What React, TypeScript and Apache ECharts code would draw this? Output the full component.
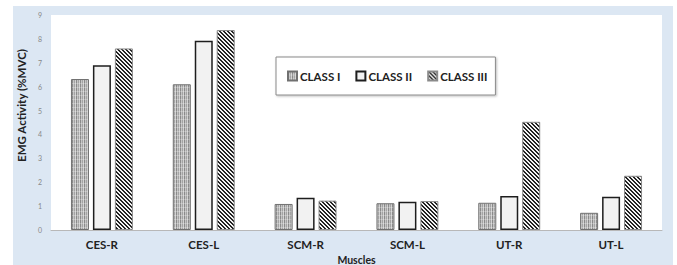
import React, { useEffect, useRef } from "react";
import * as echarts from "echarts";

const categories = ["CES-R", "CES-L", "SCM-R", "SCM-L", "UT-R", "UT-L"];
const classI = [6.32, 6.1, 1.09, 1.12, 1.14, 0.72];
const classII = [6.9, 7.92, 1.35, 1.18, 1.42, 1.39];
const classIII = [7.6, 8.37, 1.23, 1.21, 4.53, 2.27];
const seriesNames = ["CLASS I", "CLASS II", "CLASS III"];
const yTicks = { min: 0, max: 9, interval: 1 };

function makeStripe(): HTMLCanvasElement {
  const c = document.createElement("canvas");
  c.width = 4;
  c.height = 4;
  const ctx = c.getContext("2d")!;
  const cols = ["#8a8a8a", "#c4c4c4", "#a4a4a4", "#d2d2d2"];
  cols.forEach((col, i) => {
    ctx.fillStyle = col;
    ctx.fillRect(i, 0, 1, 4);
  });
  ctx.fillStyle = "rgba(255,255,255,0.25)";
  ctx.fillRect(0, 3, 4, 1);
  return c;
}

function makeHatch(): HTMLCanvasElement {
  const c = document.createElement("canvas");
  c.width = 4;
  c.height = 4;
  const ctx = c.getContext("2d")!;
  ctx.fillStyle = "#f4f4f4";
  ctx.fillRect(0, 0, 4, 4);
  ctx.fillStyle = "#222222";
  for (let i = 0; i < 4; i++) {
    ctx.fillRect(i, i, 1, 1);
    ctx.fillRect((i + 1) % 4, i, 1, 1);
  }
  return c;
}

export default function App() {
  const ref = useRef<HTMLDivElement>(null);
  useEffect(() => {
    if (!ref.current) return;
    const chart = echarts.init(ref.current, undefined, { renderer: "svg" });
    const stripe = { image: makeStripe(), repeat: "repeat" };
    const hatch = { image: makeHatch(), repeat: "repeat" };
    const font = "Lato, 'Open Sans', sans-serif";
    chart.setOption({
      animation: false,
      backgroundColor: "#ffffff",
      textStyle: { fontFamily: font },
      graphic: [
        {
          type: "rect",
          z: -10,
          silent: true,
          shape: { x: 13, y: 6, width: 660, height: 259 },
          style: { fill: "#dce7f3" },
        },
      ],
      grid: {
        left: 51,
        right: 15,
        top: 15,
        bottom: 35,
        show: true,
        backgroundColor: "#ffffff",
        borderWidth: 0,
        containLabel: false,
        outerBoundsMode: "none",
      },
      legend: {
        left: 276,
        top: 57,
        padding: [13, 8, 13, 11],
        itemGap: 15,
        itemWidth: 9,
        itemHeight: 9,
        backgroundColor: "#ffffff",
        borderColor: "#8a8a8a",
        borderWidth: 1,
        shadowColor: "rgba(0,0,0,0.25)",
        shadowBlur: 2,
        shadowOffsetX: 1,
        shadowOffsetY: 1,
        icon: "rect",
        textStyle: {
          fontFamily: font,
          fontWeight: "bold",
          fontSize: 11.5,
          color: "#222",
          padding: [0, 0, 0, -2],
        },
        data: seriesNames,
      },
      xAxis: {
        type: "category",
        data: categories,
        name: "Muscles",
        nameLocation: "middle",
        nameGap: 18,
        nameTextStyle: { fontFamily: font, fontWeight: "bold", fontSize: 10.5, color: "#222" },
        axisLine: { show: true, lineStyle: { color: "#b8b8b8", width: 1 } },
        axisTick: { show: false },
        axisLabel: { fontFamily: font, fontWeight: "bold", fontSize: 11.5, color: "#222", margin: 8 },
      },
      yAxis: {
        type: "value",
        min: yTicks.min,
        max: yTicks.max,
        interval: yTicks.interval,
        name: "EMG Activity (%MVC)",
        nameLocation: "middle",
        nameGap: 21,
        nameTextStyle: {
          fontFamily: font,
          fontWeight: "bold",
          fontSize: 11.5,
          color: "#222",
          padding: [0, 0, 0, 34],
        },
        axisLine: { show: false },
        axisTick: { show: false },
        splitLine: { show: false },
        axisLabel: { fontSize: 7, color: "#888", margin: 9, fontFamily: font },
      },
      series: [
        {
          name: seriesNames[0],
          type: "bar",
          data: classI,
          barWidth: 18,
          barGap: "22%",
          itemStyle: { color: stripe, borderColor: "#707070", borderWidth: 1 },
        },
        {
          name: seriesNames[1],
          type: "bar",
          data: classII,
          barWidth: 18,
          barGap: "22%",
          itemStyle: { color: "#f2f2f2", borderColor: "#1e1e1e", borderWidth: 1.5 },
        },
        {
          name: seriesNames[2],
          type: "bar",
          data: classIII,
          barWidth: 18,
          barGap: "22%",
          itemStyle: { color: hatch, borderColor: "#8a8a8a", borderWidth: 1 },
        },
      ],
    });
    return () => chart.dispose();
  }, []);
  return (
    <div
      ref={ref}
      style={{ position: "absolute", left: 0, top: 0, width: 677, height: 265 }}
    />
  );
}
